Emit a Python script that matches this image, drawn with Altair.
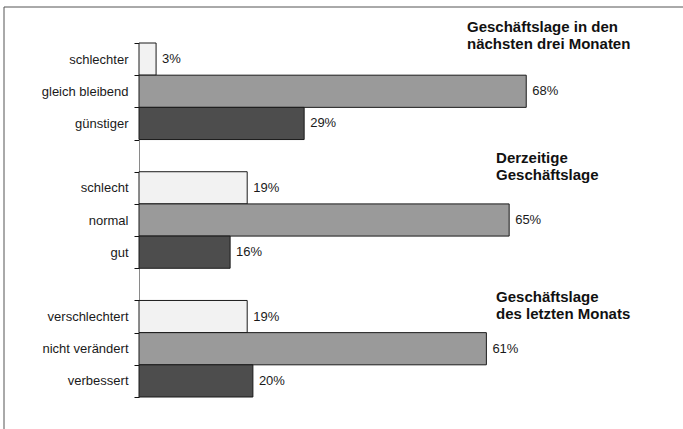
import altair as alt
import pandas as pd

# Survey answers, three question blocks, top to bottom
categories = [
    "schlechter", "gleich bleibend", "günstiger",
    "schlecht", "normal", "gut",
    "verschlechtert", "nicht verändert", "verbessert",
]
shares = [3, 68, 29, 19, 65, 16, 19, 61, 20]
tone = ["neg", "neu", "pos"] * 3

# Blank rows (whitespace names) separate the blocks on the category axis
axis_order = [
    "schlechter", "gleich bleibend", "günstiger", " ",
    "schlecht", "normal", "gut", "  ",
    "verschlechtert", "nicht verändert", "verbessert",
]

block_titles = [
    "Geschäftslage in den\nnächsten drei Monaten",
    "Derzeitige\nGeschäftslage",
    "Geschäftslage\ndes letzten Monats",
]
block_first = ["schlechter", "schlecht", "verschlechtert"]

FONT = "Liberation Sans"

df = pd.DataFrame({"cat": categories, "value": shares, "tone": tone})

y_enc = alt.Y(
    "cat:N",
    scale=alt.Scale(domain=axis_order, paddingInner=0, paddingOuter=0),
    axis=alt.Axis(
        title=None,
        tickBand="extent",
        tickSize=5,
        tickColor="#111111",
        domainColor="#8a8a8a",
        labelPadding=6,
        labelFont=FONT,
        labelFontSize=13,
        labelColor="#1a1a1a",
    ),
)
x_enc = alt.X(
    "value:Q",
    scale=alt.Scale(domain=[0, 95], nice=False),
    axis=None,
)

base = alt.Chart(df)

bars = base.mark_bar(stroke="#1a1a1a", strokeWidth=1).encode(
    x=x_enc,
    y=y_enc,
    fill=alt.Fill(
        "tone:N",
        scale=alt.Scale(domain=["neg", "neu", "pos"],
                        range=["#f2f2f2", "#9a9a9a", "#4d4d4d"]),
        legend=None,
    ),
)

values = base.transform_calculate(
    label="datum.value + '%'"
).mark_text(
    align="left", baseline="middle", dx=6, font=FONT, fontSize=13, color="#1a1a1a"
).encode(
    x="value:Q",
    y=alt.Y("cat:N"),
    text="label:N",
)


def block_title(text, anchor, x_share, dy):
    d = pd.DataFrame({"cat": [anchor], "value": [x_share], "t": [text]})
    return alt.Chart(d).mark_text(
        align="left", baseline="alphabetic", lineBreak="\n",
        font=FONT, fontSize=15, fontWeight="bold", lineHeight=17,
        color="#111111", dy=dy,
    ).encode(
        x=alt.X("value:Q"),
        y=alt.Y("cat:N"),
        text="t:N",
    )


titles = [
    block_title(block_titles[0], block_first[0], 57.6, -27),
    block_title(block_titles[1], block_first[1], 62.7, -25),
    block_title(block_titles[2], block_first[2], 62.7, -15),
]

one = pd.DataFrame({"a": [0]})
frame_left = alt.Chart(one).mark_rule(color="#555555", strokeWidth=1).encode(
    x=alt.value(-135), y=alt.value(-36), y2=alt.value(386)
)
frame_top = alt.Chart(one).mark_rule(color="#555555", strokeWidth=1).encode(
    x=alt.value(-135), x2=alt.value(544), y=alt.value(-36)
)

chart = alt.layer(
    frame_left, frame_top, bars, values, *titles
).properties(
    width=541,
    height=354,
    background="white",
    padding={"left": 139, "top": 43, "right": 3, "bottom": 32},
    autosize=alt.AutoSizeParams(type="none"),
).configure_view(stroke=None)

chart.save("out.html", embed_options={"renderer": "svg", "actions": False})
